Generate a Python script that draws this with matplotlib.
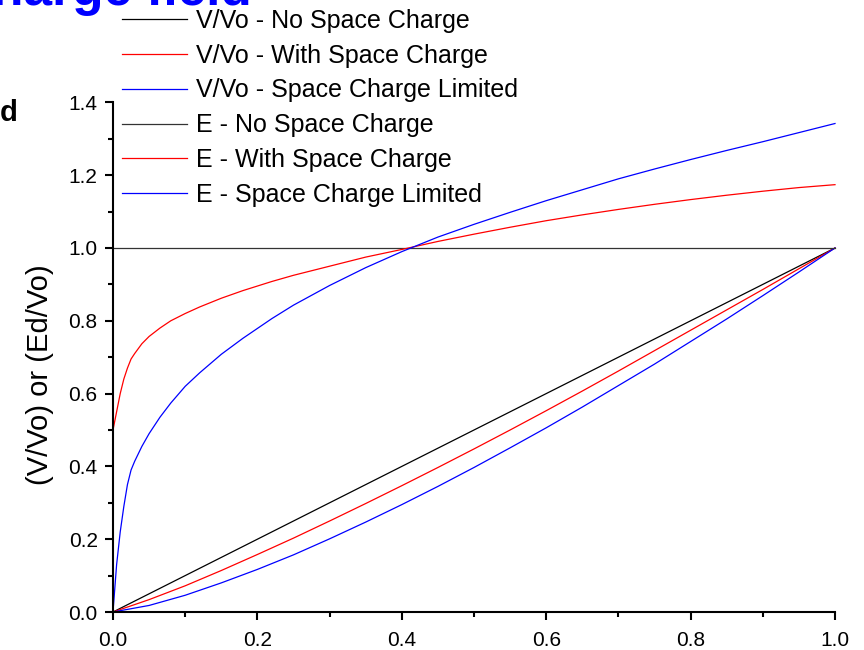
import matplotlib

matplotlib.use("Agg")

import matplotlib.pyplot as plt
from matplotlib.ticker import MultipleLocator

plt.rcParams["font.family"] = ["Liberation Sans", "DejaVu Sans"]

# normalised position x/d
X_LIN = [0.0, 1.0]
X_V = [0.0, 0.05, 0.1, 0.15, 0.2, 0.25, 0.3, 0.35, 0.4, 0.45, 0.5, 0.55,
       0.6, 0.65, 0.7, 0.75, 0.8, 0.85, 0.9, 0.95, 1.0]
X_E = [0.0, 0.005, 0.01, 0.015, 0.02, 0.025, 0.03, 0.04, 0.05, 0.065, 0.08,
       0.1, 0.12, 0.15, 0.18, 0.22, 0.25, 0.3, 0.35, 0.4, 0.45, 0.5, 0.55,
       0.6, 0.65, 0.7, 0.75, 0.8, 0.85, 0.9, 0.95, 1.0]

# V/Vo curves
v_no_sc = [0.0, 1.0]
v_with_sc = [0.0, 0.034, 0.072, 0.114, 0.158, 0.203, 0.250, 0.298, 0.347,
             0.397, 0.448, 0.500, 0.553, 0.607, 0.662, 0.718, 0.774, 0.830,
             0.886, 0.943, 1.0]
v_sc_limited = [0.0, 0.018, 0.046, 0.080, 0.117, 0.157, 0.201, 0.247, 0.295,
                0.345, 0.397, 0.451, 0.506, 0.563, 0.622, 0.681, 0.743, 0.805,
                0.869, 0.934, 1.0]

# Ed/Vo curves
e_no_sc = [1.0, 1.0]
e_with_sc = [0.50, 0.55, 0.60, 0.64, 0.67, 0.695, 0.71, 0.737, 0.757, 0.78,
             0.80, 0.82, 0.838, 0.862, 0.883, 0.908, 0.925, 0.95, 0.975,
             0.996, 1.018, 1.038, 1.057, 1.075, 1.091, 1.106, 1.12, 1.133,
             1.145, 1.156, 1.166, 1.174]
e_sc_limited = [0.0, 0.13, 0.22, 0.29, 0.35, 0.39, 0.414, 0.455, 0.49, 0.535,
                0.574, 0.62, 0.657, 0.708, 0.752, 0.806, 0.843, 0.897, 0.946,
                0.99, 1.03, 1.065, 1.098, 1.13, 1.16, 1.19, 1.217, 1.243,
                1.268, 1.292, 1.317, 1.342]

fig = plt.figure(figsize=(8.64, 6.5), dpi=100)
ax = fig.add_axes([113 / 864, 38 / 650, 722 / 864, 509.6 / 650])

lw = 0.9
ax.plot(X_LIN, v_no_sc, color="black", lw=lw, label="V/Vo - No Space Charge", clip_on=False)
ax.plot(X_V, v_with_sc, color="red", lw=lw, label="V/Vo - With Space Charge", clip_on=False)
ax.plot(X_V, v_sc_limited, color="blue", lw=lw, label="V/Vo - Space Charge Limited", clip_on=False)
ax.plot(X_LIN, e_no_sc, color="#333333", lw=lw, label="E - No Space Charge", clip_on=False)
ax.plot(X_E, e_with_sc, color="red", lw=lw, label="E - With Space Charge", clip_on=False)
ax.plot(X_E, e_sc_limited, color="blue", lw=lw, label="E - Space Charge Limited", clip_on=False)

ax.set_xlim(0, 1)
ax.set_ylim(0, 1.4)
ax.xaxis.set_major_locator(MultipleLocator(0.2))
ax.xaxis.set_minor_locator(MultipleLocator(0.1))
ax.yaxis.set_major_locator(MultipleLocator(0.2))
ax.yaxis.set_minor_locator(MultipleLocator(0.1))
ax.xaxis.set_major_formatter(lambda v, p: f"{v:.1f}")
ax.yaxis.set_major_formatter(lambda v, p: f"{v:.1f}")

for side in ("top", "right"):
    ax.spines[side].set_visible(False)
for side in ("left", "bottom"):
    ax.spines[side].set_linewidth(1.5)
ax.tick_params(which="major", direction="out", length=6, width=1.5, labelsize=15, pad=5)
ax.tick_params(axis="x", which="major", pad=8)
ax.tick_params(which="minor", direction="out", length=3.5, width=1.5)
ax.set_ylabel("(V/Vo) or (Ed/Vo)", fontsize=21)
ax.yaxis.set_label_coords(-0.082, 0.465)

ax.legend(loc="upper left", bbox_to_anchor=(122 / 864, 1 - 9 / 650),
          bbox_transform=fig.transFigure, frameon=False, fontsize=18,
          handlelength=2.6, handletextpad=0.36, labelspacing=0.43,
          borderpad=0, borderaxespad=0)

fig.text(-8 / 864, 1 - 5 / 650, "harge field", color="#0000ff", fontsize=37,
         fontweight="bold", ha="left", va="baseline")
fig.text(0, 1 - 121 / 650, "d", color="black", fontsize=21,
         fontweight="bold", ha="left", va="baseline")

fig.savefig("out.png", dpi=100)
